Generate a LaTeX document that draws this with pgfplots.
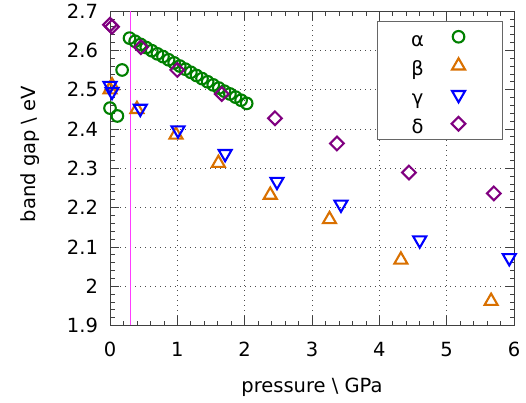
\documentclass[border=0pt]{standalone}
\usepackage{fontspec}
\setmainfont{DejaVu Sans}
\usepackage{pgfplots}
\pgfplotsset{compat=1.18}

\definecolor{cgreen}{RGB}{0,128,0}
\definecolor{corange}{RGB}{217,112,0}
\definecolor{cblue}{RGB}{0,0,255}
\definecolor{cpurple}{RGB}{128,0,128}
\definecolor{cmag}{RGB}{255,60,255}

\newcommand{\fs}{\fontsize{19.5}{22}\selectfont}
\newcommand{\lgtxt}[1]{\hspace{10pt}\rule[-5.5pt]{0pt}{26.5pt}#1}

\pgfplotsset{
  lgd/.style={legend image code/.code={
    \draw[##1] plot coordinates {(8.5pt,0pt)};
    \path[draw=none,fill=none] (0pt,0pt) -- (31pt,0pt);}},
}

\begin{document}
\begin{tikzpicture}
\useasboundingbox (0,0) rectangle (526pt,403pt);
\begin{axis}[
  at={(110pt,77.5pt)}, anchor=south west,
  scale only axis, width=404pt, height=314.5pt,
  xmin=0, xmax=6, ymin=1.9, ymax=2.7,
  xtick={0,1,...,6},
  ytick={1.9,2.0,2.1,2.2,2.3,2.4,2.5,2.6,2.7},
  minor x tick num=4, minor y tick num=4,
  major tick length=9pt, minor tick length=4.5pt,
  tick style={black!75, line width=0.7pt},
  axis line style={black!75, line width=0.8pt},
  grid=major,
  major grid style={black!70, line width=0.7pt, dash pattern=on 0.8pt off 4.2pt},
  /pgf/number format/assume math mode=true,
  ticklabel style={font=\fs},
  yticklabel style={/pgf/number format/fixed, /pgf/number format/precision=1, xshift=-8.5pt},
  xticklabel style={yshift=-13pt},
  xlabel={pressure \textbackslash{} GPa},
  ylabel={band gap \textbackslash{} eV},
  label style={font=\fs},
  xlabel style={at={(axis description cs:0.5,0)}, anchor=base, yshift=-67.2pt},
  ylabel style={at={(axis description cs:-0.1856,0.545)}, anchor=base},
  legend plot pos=right,
  legend cell align=center,
  legend style={at={(0.9728,0.968)}, anchor=north east, draw=black!60, line width=0.9pt,
    font=\fs, inner xsep=21.5pt, inner ysep=2pt, column sep=24pt, row sep=2.5pt},
]
\addplot[cmag, line width=1.3pt, forget plot] coordinates {(0.3,1.9) (0.3,2.7)};

\addplot[only marks, lgd, mark=o, mark size=5.8pt, cgreen, line width=2.1pt] coordinates {
(0.00,2.453) (0.11,2.433) (0.18,2.550)
(0.290,2.631) (0.373,2.623) (0.456,2.615) (0.539,2.607) (0.621,2.599)
(0.704,2.591) (0.787,2.584) (0.870,2.576) (0.953,2.568) (1.036,2.560)
(1.119,2.552) (1.201,2.544) (1.284,2.536) (1.367,2.528) (1.450,2.520)
(1.533,2.512) (1.616,2.504) (1.699,2.496) (1.781,2.489) (1.864,2.481)
(1.947,2.473) (2.030,2.465)
};
\addlegendentry{\lgtxt{α}}

\addplot[only marks, lgd, mark=triangle, mark size=7.5pt, corange, line width=2.1pt] coordinates {
(0.00,2.500) (0.03,2.510) (0.40,2.450) (0.98,2.385) (1.61,2.313)
(2.38,2.232) (3.26,2.170) (4.32,2.067) (5.66,1.962)
};
\addlegendentry{\lgtxt{β}}

\addplot[only marks, lgd, mark=triangle, mark size=7.5pt, mark options={rotate=180}, cblue, line width=2.1pt] coordinates {
(0.00,2.510) (0.03,2.495) (0.45,2.452) (1.01,2.397) (1.71,2.337)
(2.48,2.266) (3.43,2.208) (4.60,2.117) (5.93,2.072)
};
\addlegendentry{\lgtxt{γ}}

\addplot[only marks, lgd, mark=square, mark size=4.85pt, mark options={rotate=45}, cpurple, line width=2.1pt] coordinates {
(0.00,2.665) (0.03,2.660) (0.46,2.608) (1.00,2.550) (1.66,2.489)
(2.45,2.427) (3.37,2.363) (4.44,2.289) (5.70,2.236)
};
\addlegendentry{\lgtxt{δ}}
\end{axis}
\end{tikzpicture}
\end{document}
